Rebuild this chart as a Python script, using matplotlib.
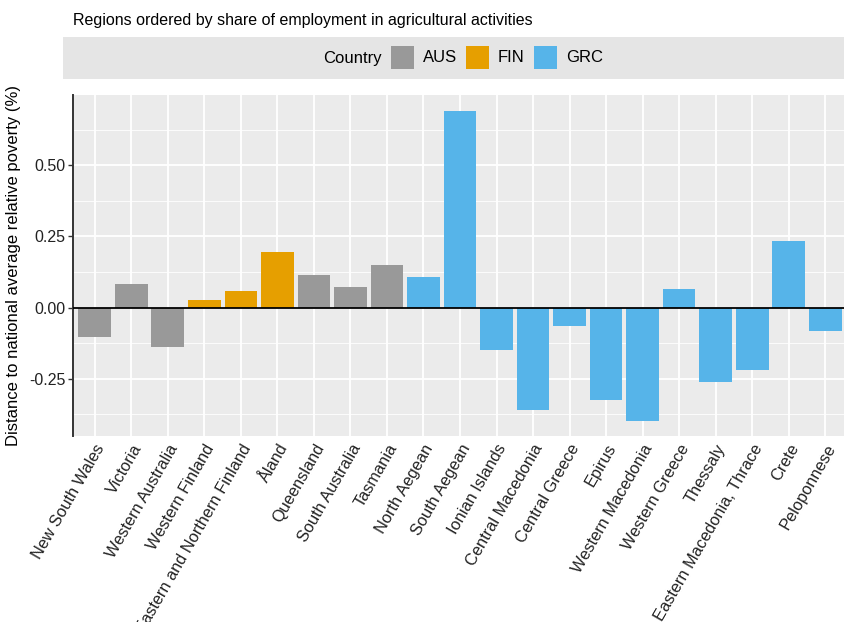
import matplotlib
matplotlib.use("Agg")
import matplotlib.pyplot as plt
from matplotlib.patches import Rectangle
from matplotlib.ticker import FixedLocator

plt.rcParams['font.family'] = ['Liberation Sans', 'DejaVu Sans']

# Regions, ordered by share of employment in agriculture
regions = ["New South Wales", "Victoria", "Western Australia", "Western Finland",
           "Eastern and Northern Finland", "Åland", "Queensland", "South Australia",
           "Tasmania", "North Aegean", "South Aegean", "Ionian Islands",
           "Central Macedonia", "Central Greece", "Epirus", "Western Macedonia",
           "Western Greece", "Thessaly", "Eastern Macedonia, Thrace", "Crete",
           "Peloponnese"]
country = ["AUS", "AUS", "AUS", "FIN", "FIN", "FIN", "AUS", "AUS", "AUS",
           "GRC", "GRC", "GRC", "GRC", "GRC", "GRC", "GRC", "GRC", "GRC",
           "GRC", "GRC", "GRC"]
distance = [-0.102, 0.083, -0.137, 0.028, 0.057, 0.194, 0.115, 0.074, 0.150,
            0.108, 0.692, -0.150, -0.358, -0.064, -0.324, -0.397, 0.066,
            -0.260, -0.219, 0.235, -0.081]

country_levels = ["AUS", "FIN", "GRC"]
palette = {"AUS": "#999999", "FIN": "#E69F00", "GRC": "#56B4E9"}

W, H = 845, 622
fig = plt.figure(figsize=(W / 100, H / 100), dpi=100)
fig.patch.set_facecolor("white")

def fx(px):
    return px / W

def fy(py):
    return 1 - py / H

ax = fig.add_axes([fx(73), fy(436), (847 - 73) / W, (436 - 95) / H])
ax.set_facecolor("#EBEBEB")

x = list(range(len(regions)))
ax.bar(x, distance, width=0.9, color=[palette[c] for c in country], zorder=2)
ax.axhline(0, color="black", lw=1.3, zorder=3)

ax.set_xlim(-0.6, len(regions) - 0.4)
ax.set_ylim(-0.4505, 0.7468)

ax.yaxis.set_major_locator(FixedLocator([-0.25, 0.0, 0.25, 0.5]))
ax.yaxis.set_minor_locator(FixedLocator([-0.375, -0.125, 0.125, 0.375, 0.625]))
ax.set_yticklabels(["-0.25", "0.00", "0.25", "0.50"])
ax.set_xticks(x)
ax.set_xticklabels(regions, rotation=60, ha="right", va="top",
                   rotation_mode="anchor", fontsize=11.8, color="#222222")
ax.tick_params(axis="x", length=0, pad=4)
ax.tick_params(axis="y", which="major", length=3.5, width=1.0, color="#333333",
               labelsize=11.5, labelcolor="#222222", pad=2)
ax.tick_params(axis="y", which="minor", length=0)

ax.grid(True, which="major", color="white", lw=1.3, zorder=0)
ax.grid(True, which="minor", axis="y", color="white", lw=0.6, zorder=0)
ax.set_axisbelow(True)

for side in ("top", "right", "bottom"):
    ax.spines[side].set_visible(False)
ax.spines["left"].set_color("#333333")
ax.spines["left"].set_linewidth(1.4)

ax.set_ylabel("Distance to national average relative poverty (%)", fontsize=12,
              color="black", labelpad=6)

# Title
fig.text(fx(73), fy(20.5), "Regions ordered by share of employment in agricultural activities",
         ha="left", va="center", fontsize=11.5, color="black")

# Legend band
fig.patches.append(Rectangle((fx(63), fy(79)), fx(W) - fx(63) + 0.01, (79 - 37) / H,
                             transform=fig.transFigure, facecolor="#E5E5E5",
                             edgecolor="none", zorder=0))
fig.text(fx(323), fy(58), "Country", ha="left", va="center", fontsize=12)
key_x = {"AUS": 391, "FIN": 466, "GRC": 534}
for lvl in country_levels:
    fig.patches.append(Rectangle((fx(key_x[lvl]), fy(69)), 23 / W, 23 / H,
                                 transform=fig.transFigure,
                                 facecolor=palette[lvl], edgecolor="none", zorder=1))
    fig.text(fx(key_x[lvl] + 32), fy(58), lvl, ha="left", va="center", fontsize=12)

fig.savefig("out.png", dpi=100)
